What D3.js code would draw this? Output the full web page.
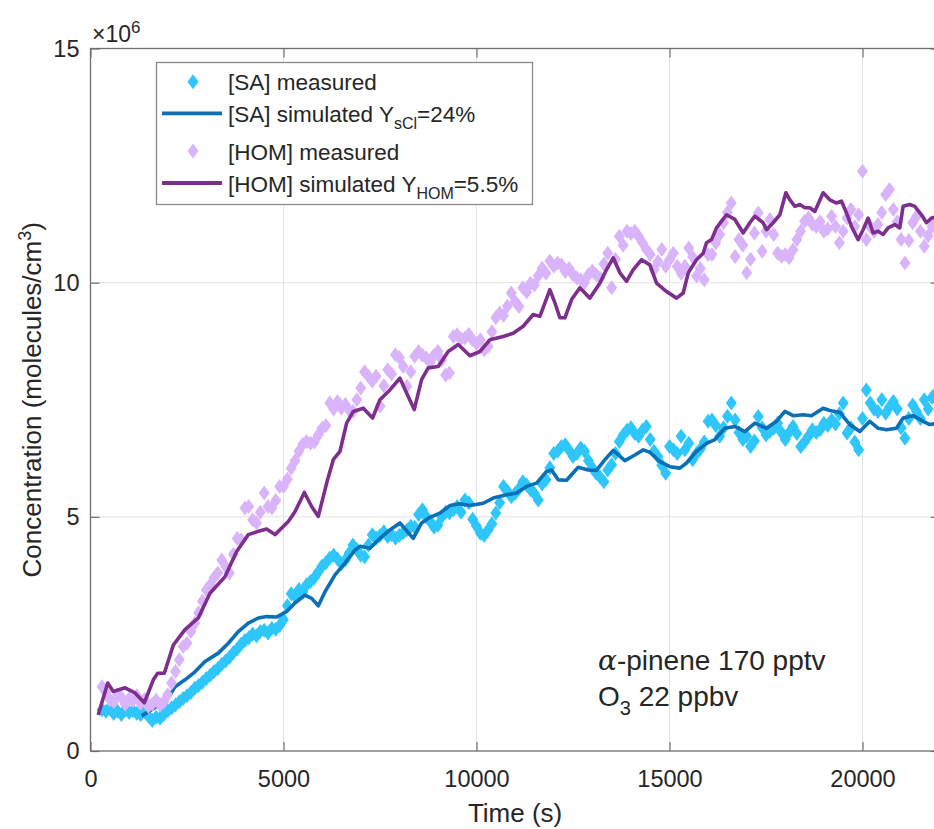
<!DOCTYPE html>
<meta charset="utf-8">
<style>
body { margin: 0; background: #fff; }
svg { display: block; font-family: "Liberation Sans", Arial, sans-serif; }
</style>
<svg width="934" height="829"></svg>
<script src="https://cdn.jsdelivr.net/npm/d3@7/dist/d3.min.js"></script>
<script>
// values in units of 1e6 molecules/cm3
var xTicks = [0, 5000, 10000, 15000, 20000];
var yTicks = [0, 5, 10, 15];

// measured series are sampled every 100 s from 300 s
var measTime = d3.range(300, 22000, 100);

var saMeasured = [
  0.88, 0.85, 0.90, 0.80, 0.85, 0.78, 0.88, 0.82, 0.86, 0.80, 0.78, 0.84, 0.74,
  0.65, 0.72, 0.70, 0.78, 0.86,
  0.92, 0.98, 1.05, 1.12, 1.18, 1.25, 1.34, 1.40, 1.47, 1.55,
  1.62, 1.70, 1.76, 1.85, 1.92, 2.00, 2.10, 2.18, 2.28, 2.36,
  2.42, 2.50, 2.46, 2.55, 2.58, 2.52, 2.62, 2.60, 2.68, 2.80,
  3.10, 3.36, 3.30, 3.45, 3.40, 3.55, 3.62, 3.70, 3.82, 3.95,
  4.02, 4.12, 4.18, 4.10, 4.00, 4.08, 4.22, 4.40, 4.30, 4.18,
  4.15, 4.40, 4.62, 4.55, 4.60, 4.68, 4.58, 4.62, 4.55, 4.60,
  4.66, 4.72, 4.80, 4.78, 5.05, 5.15, 5.00, 4.90, 4.78, 4.82,
  5.00, 5.10, 5.08, 5.15, 5.22, 5.10, 5.36, 5.30, 4.95, 4.80,
  4.65, 4.60, 4.72, 4.85, 5.08, 5.30, 5.65, 5.55, 5.43, 5.50,
  5.60, 5.75, 5.68, 5.58, 5.50, 5.36, 5.70, 5.79, 6.05, 6.35,
  6.40, 6.50, 6.54, 6.42, 6.29, 6.35, 6.47, 6.40, 6.20, 6.05,
  5.93, 5.85, 5.75, 6.00, 6.11, 6.35, 6.61, 6.75, 6.85, 6.90,
  6.78, 6.72, 6.85, 6.93, 6.65, 6.40, 6.29, 6.10, 5.93, 6.50,
  6.43, 6.35, 6.72, 6.43, 6.57, 6.22, 6.35, 6.45, 6.60, 7.04,
  7.07, 6.95, 6.72, 6.90, 7.15, 7.43, 7.07, 6.80, 6.65, 6.72,
  6.50, 6.62, 7.14, 6.90, 6.75, 6.82, 6.89, 7.00, 6.80, 6.65,
  6.80, 6.93, 6.78, 6.50, 6.60, 6.72, 6.86, 6.80, 6.86, 7.00,
  6.95, 7.07, 6.98, 7.20, 7.43, 6.79, 6.90, 6.60, 6.43, 7.10,
  7.71, 7.43, 7.30, 7.25, 7.50, 7.21, 7.35, 7.46, 7.30, 6.90,
  6.68, 7.10, 7.39, 7.25, 7.10, 7.50, 7.30, 7.55, 7.64
];

var homMeasured = [
  1.37, 1.25, 1.10, 1.05, 1.20, 1.15, 1.00, 1.12, 1.08, 1.18, 1.02, 1.10, 0.95,
  1.00, 1.09, 0.98, 1.05, 1.20,
  1.45, 1.70, 1.95, 2.23, 2.30, 2.55, 2.73, 2.95, 3.20, 3.44,
  3.55, 3.70, 3.80, 4.08, 3.94, 3.80, 4.20, 4.54, 4.51, 5.19,
  5.22, 4.94, 4.87, 5.10, 5.51, 5.22, 5.19, 5.35, 5.65, 5.65,
  5.80, 6.04, 6.20, 6.40, 6.55, 6.61, 6.57, 6.60, 6.75, 6.89,
  6.95, 7.43, 7.30, 7.46, 7.32, 7.40, 7.28, 7.25, 7.50, 7.75,
  8.10, 8.00, 7.90, 8.00, 7.36, 7.80, 8.14, 8.05, 8.46, 8.40,
  8.21, 7.79, 8.10, 8.43, 8.53, 8.45, 8.39, 8.30, 8.45, 8.53,
  8.35, 8.03, 8.07, 8.85, 8.89, 8.80, 8.82, 8.90, 8.78, 8.70,
  8.78, 8.57, 8.64, 8.95, 9.25, 9.35, 9.30, 9.50, 9.78, 9.60,
  9.49, 9.89, 9.80, 9.99, 9.95, 10.15, 10.31, 10.20, 10.46, 10.35,
  10.42, 10.38, 10.24, 10.30, 10.17, 10.10, 10.06, 10.00, 10.17, 10.25,
  10.17, 10.10, 10.40, 10.63, 9.89, 10.50, 10.99, 10.80, 11.10, 11.05,
  11.10, 10.99, 10.85, 10.71, 10.60, 10.28, 10.45, 10.71, 10.35, 10.49,
  10.63, 10.35, 10.20, 10.35, 10.74, 10.55, 10.14, 10.30, 10.06, 10.60,
  10.60, 10.85, 11.03, 11.28, 11.50, 11.70, 10.56, 10.92, 10.80, 10.21,
  10.50, 11.06, 11.49, 10.67, 11.10, 11.35, 11.03, 10.63, 10.56, 10.60,
  10.53, 10.70, 10.92, 11.10, 11.31, 11.38, 11.25, 11.20, 11.30, 11.10,
  11.15, 11.42, 11.20, 10.85, 11.10, 11.38, 11.56, 11.20, 11.45, 12.38,
  10.92, 11.20, 11.10, 11.24, 11.50, 11.88, 11.99, 11.56, 11.30, 10.92,
  10.42, 10.90, 11.28, 11.42, 11.10, 10.78, 11.00, 11.20, 11.35
];

var saSimTime = [
  1326, 1714, 1973, 2189, 2448, 2707, 2966, 3311, 3570, 3829, 4088, 4347, 4564,
  4823, 5082, 5297, 5556, 5729, 5902, 6075, 6334, 6592, 6851, 6981, 7240, 7498,
  7757, 8016, 8361, 8577, 8793, 9052, 9311, 9570, 9829, 10174, 10433, 10779,
  11038, 11297, 11556, 11815, 11944, 12117, 12333, 12635, 12894, 13110, 13326,
  13542, 13844, 14103, 14319, 14491, 14750, 15010, 15269, 15442, 15700, 15959,
  16175, 16434, 16693, 16952, 17211, 17513, 17772, 17988, 18204, 18463, 18679,
  18981, 19154, 19413, 19672, 19931, 20190, 20405, 20621, 20880, 21052, 21311,
  21570, 21743, 21950
];
var saSimulated = [
  0.75, 0.95, 1.09, 1.37, 1.52, 1.69, 1.91, 2.09, 2.30, 2.55, 2.73, 2.84, 2.87,
  2.86, 2.98, 3.16, 3.33, 3.26, 3.10, 3.40, 3.76, 4.01, 4.29, 4.37, 4.33, 4.54,
  4.72, 4.87, 4.54, 4.87, 4.99, 5.08, 5.24, 5.28, 5.24, 5.29, 5.40, 5.47,
  5.51, 5.65, 5.72, 5.97, 6.00, 5.79, 5.78, 6.06, 6.00, 5.99, 6.22,
  6.42, 6.20, 6.32, 6.43, 6.38, 6.18, 6.07, 6.04, 6.15, 6.40, 6.57,
  6.65, 6.89, 6.93, 6.82, 7.00, 6.89, 7.04, 7.25, 7.16, 7.18, 7.16,
  7.32, 7.27, 7.23, 6.97, 6.82, 7.04, 6.89, 6.86, 6.89, 7.11, 7.16,
  7.04, 6.97, 7.00
];

var homSimTime = [
  200, 445, 590, 894, 1153, 1394, 1627, 1740, 1912, 2145, 2448, 2792, 3095,
  3484, 3786, 4088, 4347, 4564, 4780, 5125, 5297, 5540, 5729, 5902, 6118, 6290,
  6463, 6635, 6808, 7067, 7308, 7498, 7757, 8016, 8231, 8387, 8577, 8749, 9008,
  9267, 9526, 9829, 10088, 10347, 10692, 10951, 11210, 11469, 11642, 11901,
  12031, 12160, 12290, 12463, 12678, 12937, 13196, 13370, 13542, 13715, 13888,
  14061, 14277, 14491, 14664, 14924, 15183, 15355, 15485, 15700, 15873, 15959,
  16089, 16218, 16477, 16693, 16909, 17082, 17211, 17427, 17513, 17686, 17859,
  18014, 18118, 18247, 18377, 18506, 18636, 18765, 18981, 19154, 19327, 19456,
  19585, 19715, 19887, 20016, 20146, 20275, 20405, 20534, 20664, 20836, 20966,
  21052, 21225, 21355, 21528, 21657, 21787, 21950
];
var homSimulated = [
  0.77, 1.45, 1.27, 1.35, 1.24, 1.03, 1.52, 1.66, 1.66, 2.26, 2.59, 2.84, 3.37,
  3.72, 4.26, 4.62, 4.69, 4.74, 4.62, 4.90, 5.11, 5.52, 5.22, 5.01, 5.72, 6.22,
  6.40, 7.00, 7.25, 7.32, 7.11, 7.50, 7.71, 7.96, 7.57, 7.29, 7.93, 8.18, 8.21,
  8.53, 8.68, 8.44, 8.53, 8.78, 8.85, 8.92, 9.07, 9.32, 9.28, 9.85,
  9.57, 9.25, 9.25, 9.64, 9.89, 9.67, 9.99, 10.28, 10.53, 10.21, 10.03,
  10.28, 10.49, 10.38, 9.99, 9.81, 9.67, 9.78, 10.21, 10.49, 10.63, 10.85,
  10.92, 11.17, 11.45, 11.35, 11.06, 11.28, 11.42, 11.28, 11.13, 11.28, 11.45,
  11.92, 11.77, 11.63, 11.67, 11.60, 11.60, 11.52, 11.92, 11.77, 11.70, 11.74,
  11.49, 11.20, 10.92, 11.13, 11.38, 11.06, 11.10, 11.03, 11.17, 11.24, 11.17,
  11.63, 11.67, 11.63, 11.45, 11.28, 11.38, 11.40
];

var colSAm = "#2ec6fb", colSAs = "#0a6fb6", colHOMm = "#dab4fb", colHOMs = "#7e2f8e";

var svg = d3.select("svg");
var pL = 90.5, pR = 939.7, pT = 48.5, pB = 751;

var x = d3.scaleLinear().domain([0, 22000]).range([pL, pR]);
var y = d3.scaleLinear().domain([0, 15]).range([pB, pT]);

// grid
svg.append("g").selectAll("line")
  .data(xTicks.slice(1))
  .enter().append("line")
  .attr("x1", function(d) { return x(d); }).attr("x2", function(d) { return x(d); })
  .attr("y1", pT).attr("y2", pB)
  .attr("stroke", "#e3e3e3").attr("stroke-width", 1);
svg.append("g").selectAll("line")
  .data(yTicks.slice(1, 3))
  .enter().append("line")
  .attr("x1", pL).attr("x2", pR)
  .attr("y1", function(d) { return y(d); }).attr("y2", function(d) { return y(d); })
  .attr("stroke", "#e3e3e3").attr("stroke-width", 1);

svg.append("clipPath").attr("id", "clip")
  .append("rect").attr("x", pL).attr("y", pT)
  .attr("width", pR - pL).attr("height", pB - pT);

var plot = svg.append("g").attr("clip-path", "url(#clip)");
var diamond = "M0,-7.5L5.5,0L0,7.5L-5.5,0Z";

function drawPoints(vals, color) {
  plot.append("g").selectAll("path")
    .data(vals)
    .enter().append("path")
    .attr("d", diamond)
    .attr("transform", function(d, i) { return "translate(" + x(measTime[i]) + "," + y(d) + ")"; })
    .attr("fill", color);
}
function drawLine(times, vals, color) {
  var line = d3.line()
    .x(function(d, i) { return x(times[i]); })
    .y(function(d) { return y(d); });
  plot.append("path")
    .datum(vals)
    .attr("d", line)
    .attr("fill", "none")
    .attr("stroke", color)
    .attr("stroke-width", 3.6)
    .attr("stroke-linejoin", "round");
}

drawPoints(saMeasured, colSAm);
drawLine(saSimTime, saSimulated, colSAs);
drawPoints(homMeasured, colHOMm);
drawLine(homSimTime, homSimulated, colHOMs);

// axes
var axisCol = "#6e6e6e", textCol = "#262626";
var gx = svg.append("g").attr("transform", "translate(0," + pB + ")")
  .call(d3.axisBottom(x).tickValues(xTicks).tickSize(-9).tickPadding(19).tickFormat(d3.format("d")));
var gy = svg.append("g").attr("transform", "translate(" + pL + ",0)")
  .call(d3.axisLeft(y).tickValues(yTicks).tickSize(-9).tickPadding(11));
var gt = svg.append("g").attr("transform", "translate(0," + pT + ")")
  .call(d3.axisTop(x).tickValues(xTicks).tickSize(-9).tickFormat(""));
var gr = svg.append("g").attr("transform", "translate(" + pR + ",0)")
  .call(d3.axisRight(y).tickValues(yTicks).tickSize(-9).tickFormat(""));
[gx, gy, gt, gr].forEach(function(g) {
  g.select(".domain").remove();
  g.selectAll(".tick line").attr("stroke", axisCol).attr("stroke-width", 1.2);
  g.selectAll("text").attr("fill", textCol).style("font-size", "23.5px")
    .style("font-family", "'Liberation Sans', Arial, sans-serif");
});
svg.append("rect")
  .attr("x", pL).attr("y", pT)
  .attr("width", pR - pL).attr("height", pB - pT)
  .attr("fill", "none").attr("stroke", axisCol).attr("stroke-width", 1.3);

// exponent
var ex = svg.append("text").attr("x", 92).attr("y", 42)
  .attr("fill", textCol).style("font-size", "23px");
ex.append("tspan").text("\u00d710");
ex.append("tspan").attr("dy", -9).style("font-size", "17px").text("6");

// axis labels
svg.append("text")
  .attr("x", x(11000)).attr("y", 822)
  .attr("text-anchor", "middle").attr("fill", textCol)
  .style("font-size", "26px").text("Time (s)");
var yl = svg.append("text")
  .attr("transform", "translate(41," + ((pT + pB) / 2) + ") rotate(-90)")
  .attr("text-anchor", "middle").attr("fill", textCol).style("font-size", "26px");
yl.append("tspan").text("Concentration (molecules/cm");
yl.append("tspan").attr("dy", -10).style("font-size", "18px").text("3");
yl.append("tspan").attr("dy", 10).text(")");

// annotation
var ann = svg.append("g").attr("fill", textCol).style("font-size", "28px");
var a1 = ann.append("text").attr("x", 598).attr("y", 670);
a1.append("tspan").style("font-family", "'DejaVu Serif', serif").style("font-style", "italic").text("\u03b1");
a1.append("tspan").text("-pinene 170 pptv");
var a2 = ann.append("text").attr("x", 598).attr("y", 706);
a2.append("tspan").text("O");
a2.append("tspan").attr("dy", 9).style("font-size", "20px").text("3");
a2.append("tspan").attr("dy", -9).text(" 22 ppbv");

// legend
var lg = svg.append("g");
lg.append("rect").attr("x", 156.5).attr("y", 62.5).attr("width", 376).attr("height", 142)
  .attr("fill", "#fff").attr("stroke", "#8a8a8a").attr("stroke-width", 1.3);
var rows = [
  {y: 81.7, type: "pt", col: colSAm, label: "[SA] measured"},
  {y: 113.3, type: "ln", col: colSAs, label: "[SA] simulated Y", sub: "sCl", rest: "=24%"},
  {y: 151, type: "pt", col: colHOMm, label: "[HOM] measured"},
  {y: 183, type: "ln", col: colHOMs, label: "[HOM] simulated Y", sub: "HOM", rest: "=5.5%"}
];
rows.forEach(function(r) {
  if (r.type == "pt") {
    lg.append("path").attr("d", diamond)
      .attr("transform", "translate(193," + r.y + ")").attr("fill", r.col);
  } else {
    lg.append("line").attr("x1", 162).attr("x2", 222).attr("y1", r.y).attr("y2", r.y)
      .attr("stroke", r.col).attr("stroke-width", 3.8);
  }
  var t = lg.append("text").attr("x", 228).attr("y", r.y + 8.5)
    .attr("fill", textCol).style("font-size", "22.5px");
  t.append("tspan").text(r.label);
  if (r.sub) {
    t.append("tspan").attr("dy", 7).style("font-size", "16px").text(r.sub);
    t.append("tspan").attr("dy", -7).text(r.rest);
  }
});
</script>
